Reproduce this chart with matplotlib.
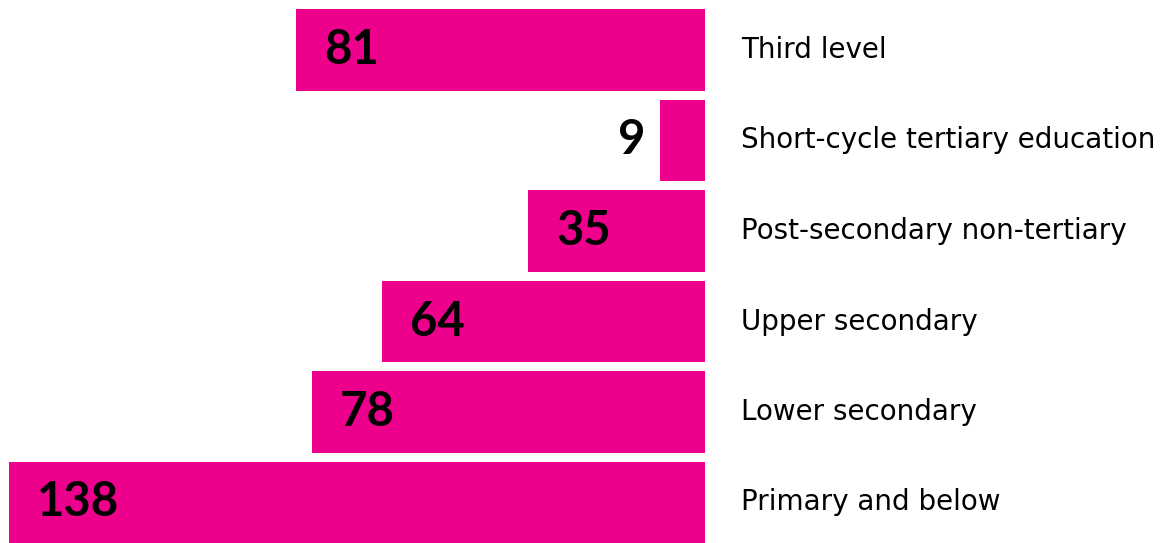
import matplotlib.pyplot as plt

categories = ['Third level', 'Short-cycle tertiary education', 'Post-secondary non-tertiary',
              'Upper secondary', 'Lower secondary', 'Primary and below']
values = [81, 9, 35, 64, 78, 138]

bar_color = '#EC008C'

fig = plt.figure(figsize=(11.68, 5.43), dpi=100)
ax = fig.add_axes([0, 0, 1, 1])

ypos = list(range(len(categories)))
ax.barh(ypos, [-v for v in values], height=0.905, color=bar_color)

# px per unit: 696 px for 138
ppu = 696 / 138
ax.set_xlim(-705 / ppu, (1168 - 705) / ppu)
ax.set_ylim(5 + (543 - 502.5) / 90.5, -50 / 90.5)
ax.axis('off')

for y, v, cat in zip(ypos, values, categories):
    if v >= 20:
        ax.text(-v + 28 / ppu, y, str(v), ha='left', va='center', fontsize=34,
                fontweight='bold', family='Lato', color='black')
    else:
        ax.text(-v - 14 / ppu, y, str(v), ha='right', va='center', fontsize=34,
                fontweight='bold', family='Lato', color='black')
    ax.text(36 / ppu, y, cat, ha='left', va='center', fontsize=20,
            family='DejaVu Sans', color='black')

fig.savefig('out.png', dpi=100)
